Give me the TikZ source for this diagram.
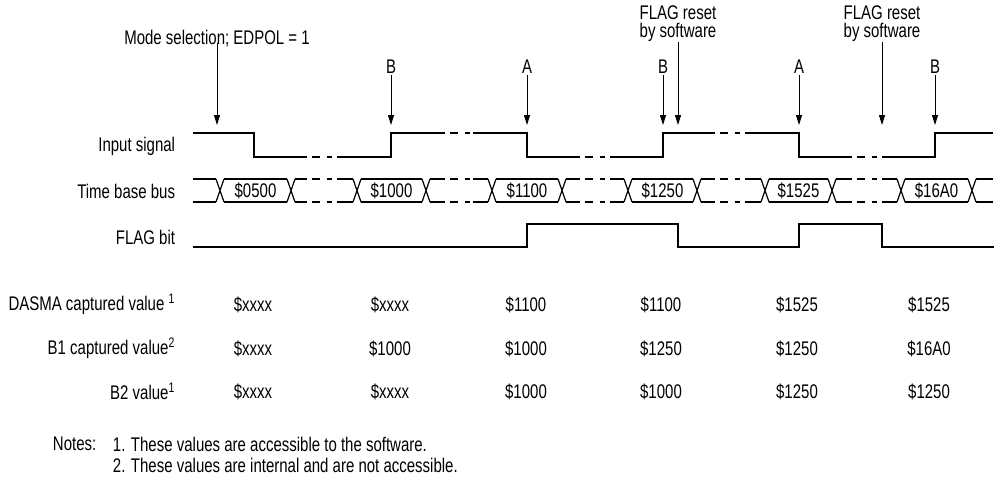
\documentclass[tikz,border=0pt]{standalone}
\usepackage{fontspec}
\setmainfont{Liberation Sans}[FakeStretch=0.76]
\usetikzlibrary{arrows.meta}
\begin{document}
\begin{tikzpicture}[x=0.75pt,y=-0.75pt,
  sig/.style={line width=0.9pt, line join=miter, line cap=butt},
  gapline/.style={sig, dash pattern=on 0pt off 3.5pt on 6.25pt off 5pt on 3.75pt off 40pt},
  arr/.style={line width=0.75pt, -{Triangle[width=4.5pt,length=7.5pt]}},
  txt/.style={inner sep=2pt, font=\fontsize{14.8}{13.6}\selectfont},
  rowlbl/.style={txt, anchor=east},
  val/.style={txt}]
\useasboundingbox (0,0) rectangle (995,482);

% ---- signal names
\node[rowlbl] (nin)   at (178,146) {Input signal};
\node[rowlbl] (nbus)  at (178,191) {Time base bus};
\node[rowlbl] (nflag) at (178,237) {FLAG bit};

% ---- input signal
\draw[sig] (193,133) -- (254,133) -- (254,157) -- (307,157);
\draw[sig] (337,157) -- (391,157) -- (391,133) -- (445,133);
\draw[sig] (473,133) -- (527,133) -- (527,157) -- (580,157);
\draw[sig] (610,157) -- (663,157) -- (663,133) -- (715,133);
\draw[sig] (745,133) -- (799,133) -- (799,157) -- (852,157);
\draw[sig] (882,157) -- (935,157) -- (935,133) -- (993,133);
\draw[gapline] (307,157) -- (337,157);
\draw[gapline] (445,133) -- (473,133);
\draw[gapline] (580,157) -- (610,157);
\draw[gapline] (715,133) -- (745,133);
\draw[gapline] (852,157) -- (882,157);

% ---- time base bus
\foreach \a/\b in {193/216,224/287,295/307,337/353,361/422,430/445,473/488,
                   496/558,566/580,610/624,632/693,701/715,745/761,769/828,
                   836/852,882/897,905/968,976/993}
  \draw[sig] (\a,179) -- (\b,179) (\a,202) -- (\b,202);
\foreach \c in {220,291,357,426,492,562,628,697,765,832,901,972}
  \draw[sig] (\c-4,179) -- (\c+4,202) (\c-4,202) -- (\c+4,179);
\foreach \g in {307,445,580,715,852}
  \draw[gapline] (\g,179) -- (\g+30,179) (\g,202) -- (\g+30,202);
\node[val] (bv1) at (255.5,190.5) {\$0500};
\node[val] (bv2) at (391.5,190.5) {\$1000};
\node[val] (bv3) at (527,190.5)   {\$1100};
\node[val] (bv4) at (662.5,190.5) {\$1250};
\node[val] (bv5) at (798.5,190.5) {\$1525};
\node[val] (bv6) at (936.5,190.5) {\$16A0};

% ---- FLAG bit
\draw[sig] (193,247) -- (527,247) -- (527,224) -- (678,224) -- (678,247)
  -- (799,247) -- (799,224) -- (882,224) -- (882,247) -- (994,247);

% ---- event labels and arrows
\node[txt] (mode) at (217,39) {Mode selection; EDPOL = 1};
\node[txt] (e1) at (391,67) {B};
\node[txt] (e2) at (527,67) {A};
\node[txt] (e3) at (663,67) {B};
\node[txt, align=center] (r1) at (678,24) {FLAG reset\\by software};
\node[txt] (e4) at (799,67) {A};
\node[txt, align=center] (r2) at (882,24) {FLAG reset\\by software};
\node[txt] (e5) at (935,67) {B};

\coordinate (t0) at (217,125);
\coordinate (t1) at (391,125);
\coordinate (t2) at (527,125);
\coordinate (t3) at (663,125);
\coordinate (t4) at (678,125);
\coordinate (t5) at (799,125);
\coordinate (t6) at (882,125);
\coordinate (t7) at (935,125);
\draw[arr] (mode.south) ++(0,-7) -- (t0);
\draw[arr] (e1.south) ++(0,-2) -- (t1);
\draw[arr] (e2.south) ++(0,-2) -- (t2);
\draw[arr] (e3.south) ++(0,-2) -- (t3);
\draw[arr] (r1.south) ++(0,-3) -- (t4);
\draw[arr] (e4.south) ++(0,-2) -- (t5);
\draw[arr] (r2.south) ++(0,-3) -- (t6);
\draw[arr] (e5.south) ++(0,-2) -- (t7);

% ---- captured values table
\node[rowlbl] (rdas) at (178,304) {DASMA captured value \textsuperscript{1}};
\node[rowlbl] (rb1)  at (178,348) {B1 captured value\textsuperscript{2}};
\node[rowlbl] (rb2)  at (178,391) {B2 value\textsuperscript{1}};

\foreach \x/\v [count=\i] in {253/\$xxxx,390/\$xxxx,526/\$1100,661/\$1100,797/\$1525,929/\$1525}
  \node[val] (d\i) at (\x,305) {\v};
\foreach \x/\v [count=\i] in {253/\$xxxx,390/\$1000,526/\$1000,661/\$1250,797/\$1250,929/\$16A0}
  \node[val] (p\i) at (\x,349) {\v};
\foreach \x/\v [count=\i] in {253/\$xxxx,390/\$xxxx,526/\$1000,661/\$1000,797/\$1250,929/\$1250}
  \node[val] (q\i) at (\x,392) {\v};

% ---- notes
\node[txt, anchor=west] (notes) at (50,444) {Notes:};
\node[txt, anchor=west] (n1) at (110,444) {1. These values are accessible to the software.};
\node[txt, anchor=west] (n2) at (110,465) {2. These values are internal and are not accessible.};
\end{tikzpicture}
\end{document}
